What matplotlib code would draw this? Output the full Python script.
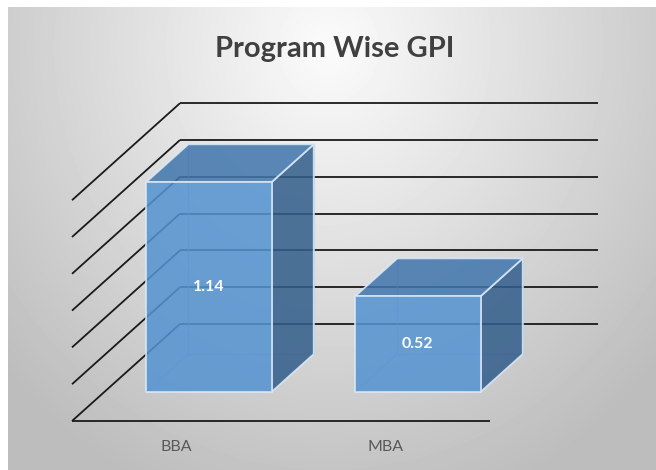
import numpy as np
import matplotlib.pyplot as plt
from matplotlib.patches import Polygon

# data
categories = ["BBA", "MBA"]
values = [1.14, 0.52]
value_ticks = [0.0, 0.2, 0.4, 0.6, 0.8, 1.0, 1.2]
title = "Program Wise GPI"

W, H = 656, 470
# pixel geometry of the 3-D box (front floor plane)
PX0, PX_PER_CAT = 72, 209.0     # floor front left, pixels per category
PY0, PY_PER_VAL = 421, 184.0    # floor front y, pixels per value unit
DX = 108 / PX_PER_CAT           # depth offset in data units
DY = 97 / PY_PER_VAL
Z0, Z1 = 0.30, 0.69             # bar depth range (fraction)
BAR_W = 0.6

fig = plt.figure(figsize=(W / 100, H / 100), dpi=100)
fig.patch.set_facecolor("white")

# gradient background panel
bg = fig.add_axes([8 / W, 0, (W - 8) / W, (H - 7) / H])
bg.set_axis_off()
yy, xx = np.mgrid[0:463, 0:648]
d = np.sqrt(((xx - 320) / 430.0) ** 2 + ((yy - 40) / 470.0) ** 2)
shade = np.clip(0.985 - 0.24 * d, 0.74, 0.985)
bg.imshow(shade, cmap="gray", vmin=0, vmax=1, aspect="auto", interpolation="bilinear")

# main axes in data units, mapped onto whole figure
ax = fig.add_axes([0, 0, 1, 1], zorder=2)
ax.patch.set_alpha(0)
ax.set_axis_off()
ax.set_xlim(-PX0 / PX_PER_CAT, (W - PX0) / PX_PER_CAT)
ax.set_ylim((PY0 - H) / PY_PER_VAL, PY0 / PY_PER_VAL)

n = len(categories)
grid_kw = dict(color="#1a1a1a", lw=1.3, solid_capstyle="butt", zorder=1)
for v in value_ticks:
    ax.plot([DX, n + DX], [v + DY, v + DY], **grid_kw)
    ax.plot([0, DX], [v, v + DY], **grid_kw)
ax.plot([0, n], [0, 0], **grid_kw)

front_c, top_c, side_c = "#5493d0", "#4176ac", "#335e8b"
edge_c = "#dbeaf8"


def off(pts, z):
    return [(x + z * DX, y + z * DY) for x, y in pts]


for i, (cat, val) in enumerate(zip(categories, values)):
    x0 = i + 0.5 - BAR_W / 2
    x1 = i + 0.5 + BAR_W / 2
    # hidden back edges (faint)
    back = off([(x0, 0), (x0, val), (x1, val), (x1, 0)], Z1)
    ax.plot([b[0] for b in back] + [back[0][0]], [b[1] for b in back] + [back[0][1]],
            color="#8fb4da", lw=0.8, alpha=0.6, zorder=3)
    fb = off([(x0, 0)], Z0)[0]
    bb = off([(x0, 0)], Z1)[0]
    ax.plot([fb[0], bb[0]], [fb[1], bb[1]], color="#8fb4da", lw=0.8, alpha=0.6, zorder=3)

    front = off([(x0, 0), (x1, 0), (x1, val), (x0, val)], Z0)
    top = off([(x0, val), (x1, val)], Z0) + off([(x1, val), (x0, val)], Z1)
    side = off([(x1, 0), (x1, val)], Z0) + off([(x1, val), (x1, 0)], Z1)
    for pts, c in [(side, side_c), (top, top_c), (front, front_c)]:
        ax.add_patch(Polygon(pts, closed=True, facecolor=c, edgecolor=edge_c,
                             lw=1.3, alpha=0.86, joinstyle="round", zorder=4))
    cx = i + 0.5 + Z0 * DX
    cy = val / 2 + Z0 * DY
    ax.text(cx, cy, f"{val:.2f}", color="white", fontsize=11.5, fontweight="bold",
            family=["Lato", "DejaVu Sans"], ha="center", va="center", zorder=6)
    ax.text(i + 0.5, -26 / PY_PER_VAL, cat, color="#595959", fontsize=11.5,
            family=["Lato", "DejaVu Sans"],
            ha="center", va="center", zorder=6)

fig.text(335 / W, 1 - 49 / H, title, ha="center", va="center", fontsize=21,
         fontweight="bold", color="#404040", family=["Lato", "DejaVu Sans"])

fig.savefig("out.png", dpi=100, facecolor=fig.get_facecolor())
